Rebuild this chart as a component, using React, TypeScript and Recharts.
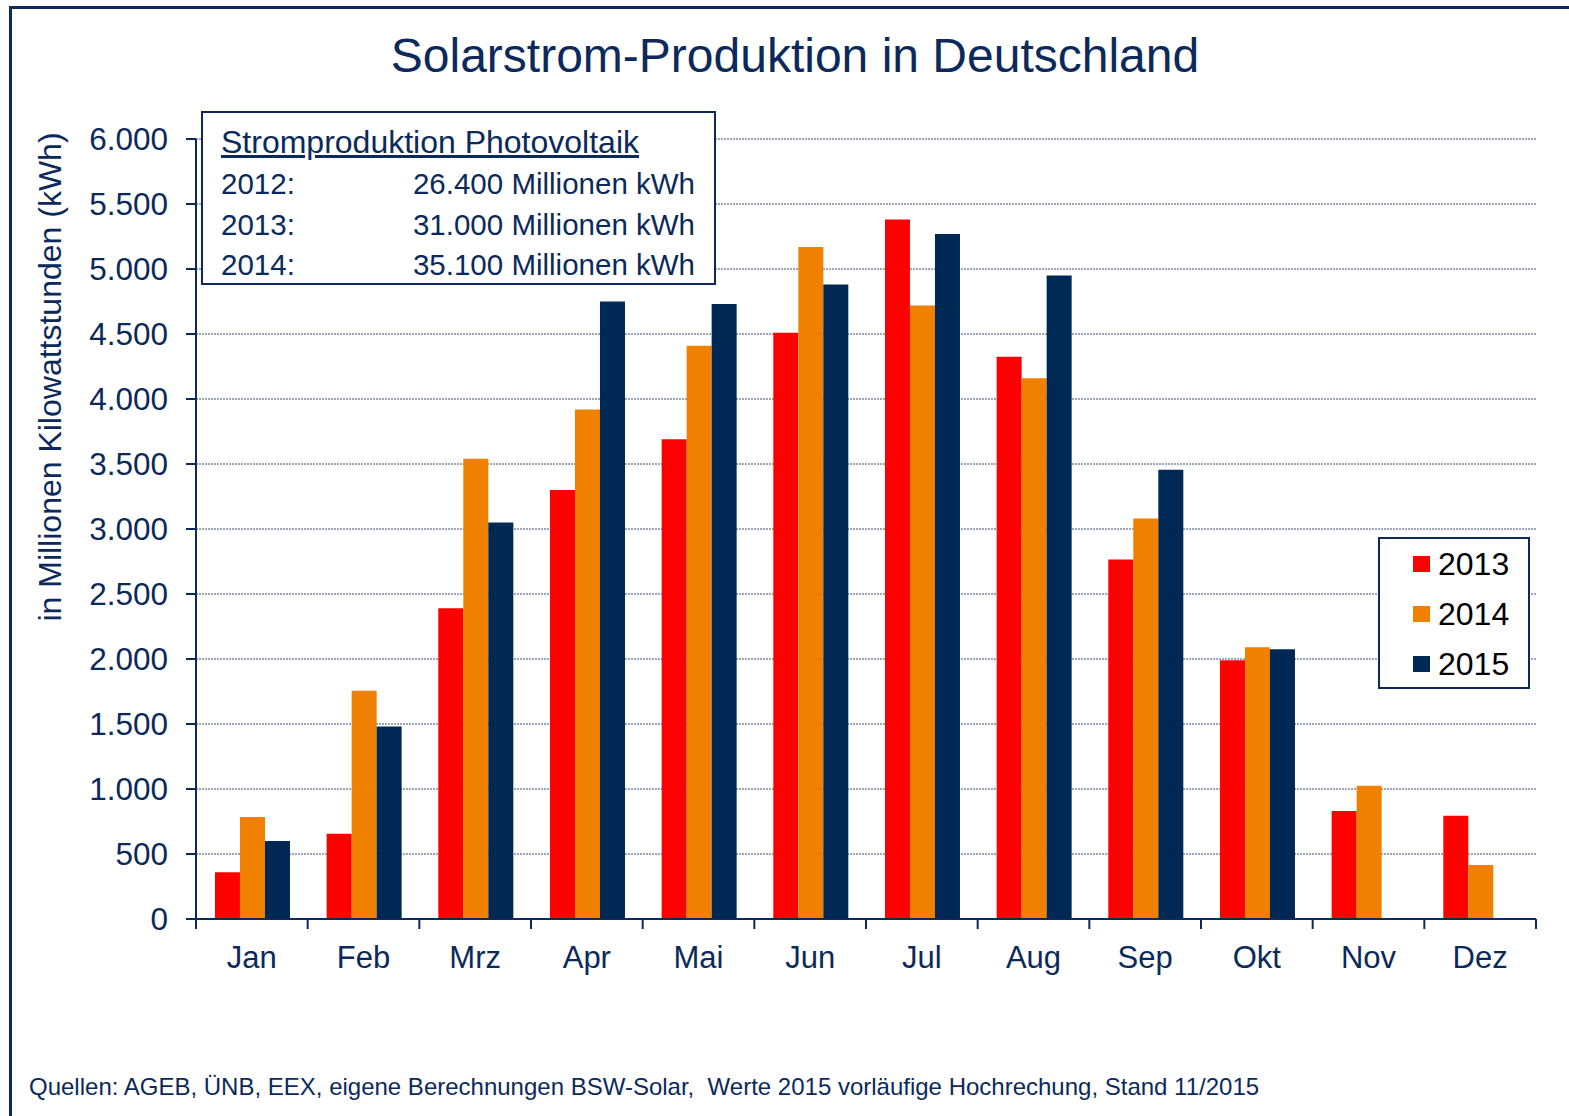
import { BarChart, Bar, XAxis, YAxis, CartesianGrid } from 'recharts';

const months = ['Jan', 'Feb', 'Mrz', 'Apr', 'Mai', 'Jun', 'Jul', 'Aug', 'Sep', 'Okt', 'Nov', 'Dez'];
const values2013 = [360, 655, 2390, 3300, 3690, 4510, 5380, 4325, 2765, 1990, 830, 795];
const values2014 = [785, 1755, 3540, 3920, 4410, 5170, 4720, 4160, 3080, 2090, 1025, 415];
const values2015 = [600, 1480, 3050, 4750, 4730, 4880, 5270, 4950, 3455, 2075, null, null];
const yTicks = [0, 500, 1000, 1500, 2000, 2500, 3000, 3500, 4000, 4500, 5000, 5500, 6000];
const boundaryTicks = [0, 1, 2, 3, 4, 5, 6, 7, 8, 9, 10, 11, 12];

const totals = [
  { year: '2012:', value: '26.400 Millionen kWh' },
  { year: '2013:', value: '31.000 Millionen kWh' },
  { year: '2014:', value: '35.100 Millionen kWh' },
];

const series = [
  { key: 'y2013', name: '2013', color: '#FF0000' },
  { key: 'y2014', name: '2014', color: '#F08000' },
  { key: 'y2015', name: '2015', color: '#002855' },
];

const data = months.map((m, i) => ({
  month: m,
  y2013: values2013[i],
  y2014: values2014[i],
  y2015: values2015[i],
  pos: i + 0.5,
}));

const NAVY = '#0B2A5B';
const FONT = '"Liberation Sans", Arial, sans-serif';

const fmt = (v: number) => String(v).replace(/\B(?=(\d{3})+(?!\d))/g, '.');

const EmptyTick = () => <g />;

const App = () => {
  return (
    <div style={{ position: 'absolute', left: 0, top: 0, width: 1569, height: 1116, background: '#fff', fontFamily: FONT, overflow: 'hidden' }}>
      {/* frame */}
      <div style={{ position: 'absolute', left: 9, top: 6, right: 0, bottom: 0, borderLeft: `3px solid ${NAVY}`, borderTop: `3px solid ${NAVY}` }} />

      <div style={{ position: 'absolute', left: 0, top: 0 }}>
        <BarChart
          width={1569}
          height={1116}
          data={data}
          margin={{ top: 139, right: 33, left: 76, bottom: 135 }}
          barCategoryGap="17%"
          barGap={0}
        >
          <CartesianGrid vertical={false} stroke="#3A4E73" strokeDasharray="2 1" xAxisId="cat" />
          <XAxis
            xAxisId="cat"
            dataKey="month"
            height={60}
            tickLine={false}
            axisLine={false}
            tickSize={0}
            tickMargin={25}
            tick={{ fill: NAVY, fontSize: 31, fontFamily: FONT }}
            interval={0}
          />
          <XAxis
            xAxisId="a"
            dataKey="pos"
            type="number"
            domain={[0, 12]}
            ticks={boundaryTicks}
            interval={0}
            height={2}
            tick={EmptyTick}
            tickSize={10}
            tickLine={{ stroke: NAVY, strokeWidth: 2 }}
            axisLine={{ stroke: NAVY, strokeWidth: 2 }}
            allowDataOverflow
          />
          <YAxis
            width={120}
            domain={[0, 6000]}
            ticks={yTicks}
            interval={0}
            tickFormatter={fmt}
            tickSize={10}
            tickMargin={18}
            tickLine={{ stroke: NAVY, strokeWidth: 2 }}
            axisLine={{ stroke: NAVY, strokeWidth: 2 }}
            tick={{ fill: NAVY, fontSize: 31.5, fontFamily: FONT }}
          />
          {series.map((s) => (
            <Bar key={s.key} xAxisId="cat" dataKey={s.key} name={s.name} fill={s.color} isAnimationActive={false} />
          ))}
        </BarChart>
      </div>

      {/* title */}
      <div style={{ position: 'absolute', left: 0, width: 1590, top: 27, textAlign: 'center', fontSize: 48, color: NAVY, lineHeight: '58px' }}>
        Solarstrom-Produktion in Deutschland
      </div>

      {/* y axis label */}
      <div
        style={{
          position: 'absolute',
          left: 50,
          top: 377,
          transform: 'translate(-50%, -50%) rotate(-90deg)',
          whiteSpace: 'nowrap',
          fontSize: 32,
          color: NAVY,
          lineHeight: '36px',
        }}
      >
        in Millionen Kilowattstunden (kWh)
      </div>

      {/* totals box */}
      <div
        style={{
          position: 'absolute',
          left: 201,
          top: 111,
          width: 511,
          height: 170,
          border: `2px solid ${NAVY}`,
          background: '#fff',
          color: NAVY,
          fontSize: 29.5,
        }}
      >
        <div style={{ position: 'absolute', left: 18, top: 9, textDecoration: 'underline', fontSize: 32, lineHeight: '40px' }}>
          Stromproduktion Photovoltaik
        </div>
        {totals.map((t, i) => (
          <div key={t.year} style={{ position: 'absolute', left: 18, right: 19, top: 53 + i * 40.5, lineHeight: '36px', display: 'flex', justifyContent: 'space-between' }}>
            <span>{t.year}</span>
            <span>{t.value}</span>
          </div>
        ))}
      </div>

      {/* legend */}
      <div
        style={{
          position: 'absolute',
          left: 1378,
          top: 537,
          width: 148,
          height: 148,
          border: `2px solid ${NAVY}`,
          background: '#fff',
        }}
      >
        {series.map((s, i) => (
          <div key={s.key} style={{ position: 'absolute', left: 33, top: 5 + i * 50, height: 40, display: 'flex', alignItems: 'center' }}>
            <span style={{ width: 17, height: 16, background: s.color, display: 'inline-block', marginRight: 8 }} />
            <span style={{ fontSize: 32, color: '#000', lineHeight: '40px' }}>{s.name}</span>
          </div>
        ))}
      </div>

      {/* source */}
      <div style={{ position: 'absolute', left: 29, top: 1072, fontSize: 24, color: NAVY, whiteSpace: 'pre', lineHeight: '30px' }}>
        {'Quellen: AGEB, ÜNB, EEX, eigene Berechnungen BSW-Solar,  Werte 2015 vorläufige Hochrechung, Stand 11/2015'}
      </div>
    </div>
  );
};

export default App;
